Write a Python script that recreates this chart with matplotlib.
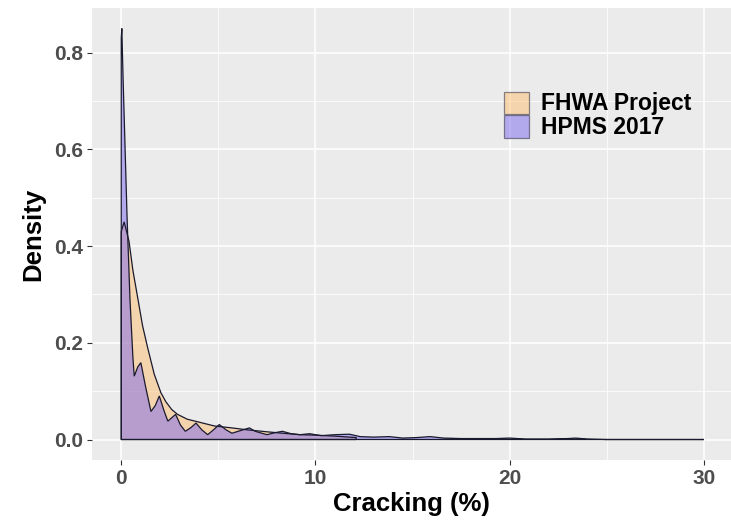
import matplotlib
matplotlib.use("Agg")
import matplotlib.pyplot as plt
from matplotlib.patches import Patch

plt.rcParams["font.family"] = ["Liberation Sans", "DejaVu Sans"]
plt.rcParams["font.weight"] = "bold"

# Density curves
fhwa_x = [0, 0.15, 0.4, 0.6, 0.84, 1.1, 1.36, 1.7, 2.04, 2.3, 2.6, 2.9, 3.4, 4.0,
          4.8, 5.7, 6.5, 7.5, 8.3, 9.2, 10.0, 11.0, 12.1]
fhwa_y = [0.43, 0.45, 0.41, 0.35, 0.295, 0.235, 0.19, 0.135, 0.097, 0.078, 0.062,
          0.052, 0.042, 0.036, 0.028, 0.024, 0.02, 0.016, 0.013, 0.01, 0.009, 0.007,
          0.004]

hpms_x = [0, 0.03, 0.1, 0.2, 0.3, 0.45, 0.6, 0.67, 0.85, 1.01, 1.25, 1.53, 1.75,
          1.96, 2.2, 2.4, 2.6, 2.8, 3.05, 3.3, 3.6, 3.85, 4.15, 4.45, 4.75, 5.05,
          5.4, 5.7, 6.1, 6.6, 6.9, 7.5, 7.9, 8.3, 8.75, 9.2, 9.7, 10.3, 11.0, 11.75,
          12.3, 13.0, 13.8, 14.5, 15.2, 15.9, 16.6, 17.5, 18.5, 19.3, 20.0, 20.8,
          22.0, 23.0, 23.4, 24.0, 25.0, 27.0, 30.0]
hpms_y = [0.83, 0.85, 0.74, 0.6, 0.46, 0.29, 0.17, 0.131, 0.15, 0.159, 0.11,
          0.058, 0.07, 0.09, 0.06, 0.038, 0.045, 0.052, 0.03, 0.017, 0.025, 0.034,
          0.02, 0.01, 0.02, 0.031, 0.02, 0.013, 0.018, 0.024, 0.017, 0.01, 0.014,
          0.017, 0.012, 0.01, 0.012, 0.008, 0.01, 0.011, 0.006, 0.005, 0.006, 0.003,
          0.004, 0.006, 0.003, 0.002, 0.002, 0.002, 0.003, 0.001, 0.001, 0.002,
          0.003, 0.001, 0.0, 0.0, 0.0]

series = [("FHWA Project", fhwa_x, fhwa_y, "#FDBF6F"),
          ("HPMS 2017", hpms_x, hpms_y, "#7B68EE")]

fig = plt.figure(figsize=(7.31, 5.27), dpi=100)
ax = fig.add_axes([0.126, 0.127, 0.874, 0.858])
ax.set_facecolor("#EBEBEB")

for name, xs, ys, col in series:
    px = [xs[0]] + xs + [xs[-1]]
    py = [0] + ys + [0]
    ax.fill(px, py, facecolor=col, alpha=0.5, edgecolor="none", zorder=2)
    ax.fill(px, py, facecolor="none", edgecolor="#1a1a2e", linewidth=0.9, zorder=3)

ax.set_xlim(-1.5, 31.4)
ax.set_ylim(-0.0425, 0.8925)
ax.set_xticks([0, 10, 20, 30])
ax.set_xticks([5, 15, 25], minor=True)
ax.set_yticks([0.0, 0.2, 0.4, 0.6, 0.8])
ax.set_yticks([0.1, 0.3, 0.5, 0.7], minor=True)
ax.set_yticklabels(["0.0", "0.2", "0.4", "0.6", "0.8"])
ax.grid(which="major", color="white", linewidth=1.1, zorder=0)
ax.grid(which="minor", color="white", linewidth=0.55, zorder=0)
ax.set_axisbelow(True)
for s in ax.spines.values():
    s.set_visible(False)
ax.tick_params(which="major", length=3.5, width=0.8, color="#333333",
               labelsize=15, labelcolor="#4D4D4D", pad=3)
ax.tick_params(which="minor", length=0)

ax.set_xlabel("Cracking (%)", fontsize=18.5, fontweight="bold", labelpad=3)
ax.set_ylabel("Density", fontsize=18.5, fontweight="bold", labelpad=6)

handles = [Patch(facecolor=c, alpha=0.5, edgecolor="#1a1a2e", linewidth=0.9)
           for _, _, _, c in series]
ax.legend(handles, [s[0] for s in series], loc="upper left",
          bbox_to_anchor=(0.644, 0.815), frameon=False, fontsize=16.5,
          handlelength=1.1, handleheight=1.12, handletextpad=0.55,
          labelspacing=0.0, borderaxespad=0, borderpad=0)

fig.savefig("out.png", dpi=100)
